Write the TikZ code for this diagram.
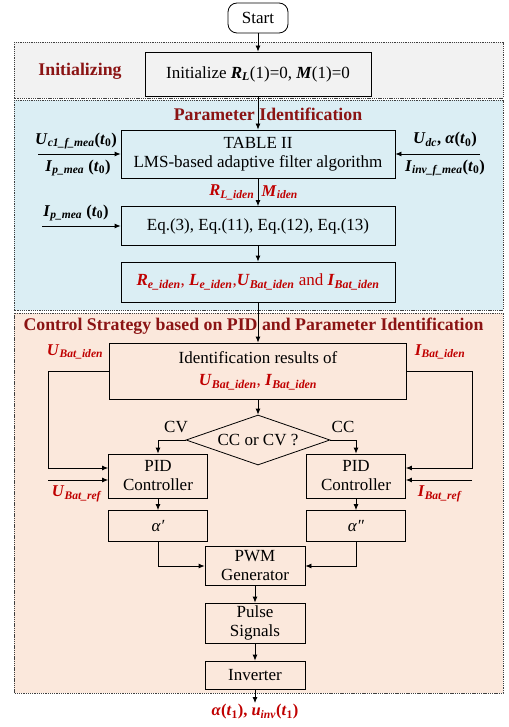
\documentclass[tikz,border=0pt]{standalone}
\usepackage{fontspec}
\setmainfont{Liberation Serif}
\usetikzlibrary{arrows.meta,positioning,shapes.geometric}
\definecolor{darkred}{HTML}{8B1414}
\definecolor{varred}{HTML}{C00000}
\definecolor{initgray}{HTML}{F2F2F2}
\definecolor{idblue}{HTML}{DBEEF4}
\definecolor{ctrlpeach}{HTML}{FBE8DC}
\newcommand{\bv}[2]{\textbf{\textit{#1}}\textsubscript{\textbf{\textit{#2}}}}
\newcommand{\tz}[1]{\textbf{\textit{t}}\textsubscript{\textbf{#1}}}

\begin{document}
\begin{tikzpicture}[x=1pt,y=-1pt, every node/.style={font=\fontsize{17}{19}\selectfont,align=center},
  proc/.style={draw,line width=0.8pt,inner sep=2pt},
  group/.style={draw=black!75,dash pattern=on 1.3pt off 0.9pt,line width=0.8pt,fill=#1},
  title/.style={font=\fontsize{17.8}{20}\selectfont\bfseries,text=darkred},
  var/.style={font=\fontsize{16.5}{19}\selectfont\bfseries,text=#1},
  arr/.style={-{Latex[length=6pt,width=5pt]},line width=0.8pt}]
  \useasboundingbox (0,0) rectangle (508,727);
  \draw[group=initgray] (14,42) rectangle (503,98);
  \draw[group=idblue] (14,100) rectangle (503,310);
  \draw[group=ctrlpeach] (14,313) rectangle (503,693);

  \node[proc,rounded corners=9pt,minimum width=60pt,minimum height=30pt] (start) at (258,18) {Start};
  \node[title] (initlbl) at (80,71) {Initializing};
  \node[proc,minimum width=226pt,minimum height=44pt] (init) at (258,74) {Initialize \bv{R}{L}(1)=0, \textbf{\textit{M}}(1)=0};
  \node[title] (parlbl) at (268,114) {Parameter Identification};
  \node[proc,minimum width=274pt,minimum height=48pt] (tab) at (258,154) {TABLE II\\LMS-based adaptive filter algorithm};
  \node[proc,minimum width=274pt,minimum height=39pt] (eqs) at (258,226) {Eq.(3), Eq.(11), Eq.(12), Eq.(13)};
  \node[proc,minimum width=274pt,minimum height=40pt,text=varred] (res) at (258,282) {\bv{R}{e\_iden}, \bv{L}{e\_iden},\bv{U}{Bat\_iden} and \bv{I}{Bat\_iden}};

  \node[title,anchor=west] (ctrllbl) at (20,326) {Control Strategy based on PID and Parameter Identification};
  \node[proc,minimum width=297pt,minimum height=56pt] (ident) at (258,371) {Identification results of\\[3pt]{\color{varred}\bv{U}{Bat\_iden}, \bv{I}{Bat\_iden}}};
  \node[proc,diamond,aspect=2.9,minimum width=144pt,minimum height=50pt,inner sep=0pt] (mode) at (258,440) {CC or CV ?};
  \node[proc,minimum width=99pt,minimum height=44pt] (pidu) at (158,476) {PID\\Controller};
  \node[proc,minimum width=99pt,minimum height=44pt] (pidi) at (356,476) {PID\\Controller};
  \node[proc,minimum width=99pt,minimum height=31pt] (au) at (158,526) {\textit{α′}};
  \node[proc,minimum width=99pt,minimum height=31pt] (ai) at (356,526) {\textit{α″}};
  \node[proc,minimum width=100pt,minimum height=39pt] (pwm) at (255,566) {PWM\\Generator};
  \node[proc,minimum width=100pt,minimum height=40pt] (pulse) at (255,623) {Pulse\\Signals};
  \node[proc,minimum width=100pt,minimum height=28pt] (inv) at (255,675) {Inverter};

  \coordinate (tinl) at (38,154);
  \coordinate (tinr) at (480,154);
  \coordinate (eqin) at (42,226);
  \coordinate (uturn) at (48,468);
  \coordinate (iturn) at (472,468);
  \coordinate (uref) at (48,480);
  \coordinate (iref) at (472,480);
  \coordinate (out) at (255,703);

  \node[var=black] (uc1) at (76,141) {\bv{U}{c1\_f\_mea}(\tz{0})};
  \node[var=black] (ipl) at (78,168) {\bv{I}{p\_mea} (\tz{0})};
  \node[var=black] (udc) at (445,140) {\bv{U}{dc}, \textit{α}(\tz{0})};
  \node[var=black] (iinv) at (445,168) {\bv{I}{inv\_f\_mea}(\tz{0})};
  \node[var=black] (ipe) at (76,213) {\bv{I}{p\_mea} (\tz{0})};
  \node[var=varred] (uiden) at (75,352) {\bv{U}{Bat\_iden}};
  \node[var=varred] (iiden) at (440,352) {\bv{I}{Bat\_iden}};
  \node[var=varred] (urefl) at (77,494) {\bv{U}{Bat\_ref}};
  \node[var=varred] (irefl) at (440,494) {\bv{I}{Bat\_ref}};
  \node (cv) at (176,427) {CV};
  \node (cc) at (343,427) {CC};
  \node[var=varred,anchor=north] (outlbl) at (255,701) {\textit{α}(\tz{1}), \bv{u}{inv}(\tz{1})};

  \draw[arr] (start) -- (init);
  \draw[arr] (init) -- (tab);
  \draw[arr] (tinl) -- (tinl -| tab.west);
  \draw[arr] (tinr) -- (tinr -| tab.east);
  \draw[arr] (tab) -- node[left,var=varred] {\bv{R}{L\_iden}} node[right,var=varred] {\bv{M}{iden}} (eqs);
  \draw[arr] (eqin) -- (eqin -| eqs.west);
  \draw[arr] (eqs) -- (res);
  \draw[arr] (res) -- (ident);
  \draw[arr] (ident) -- (mode);
  \draw[arr] (ident.west) -| (uturn) -- (uturn -| pidu.west);
  \draw[arr] (ident.east) -| (iturn) -- (iturn -| pidi.east);
  \draw[arr] (uref) -- (uref -| pidu.west);
  \draw[arr] (iref) -- (iref -| pidi.east);
  \draw[arr] (mode.west) -| (pidu.north);
  \draw[arr] (mode.east) -| (pidi.north);
  \draw[arr] (pidu) -- (au);
  \draw[arr] (pidi) -- (ai);
  \draw[arr] (au.south) |- (pwm.west);
  \draw[arr] (ai.south) |- (pwm.east);
  \draw[arr] (pwm) -- (pulse);
  \draw[arr] (pulse) -- (inv);
  \draw[arr] (inv) -- (out);
\end{tikzpicture}
\end{document}
